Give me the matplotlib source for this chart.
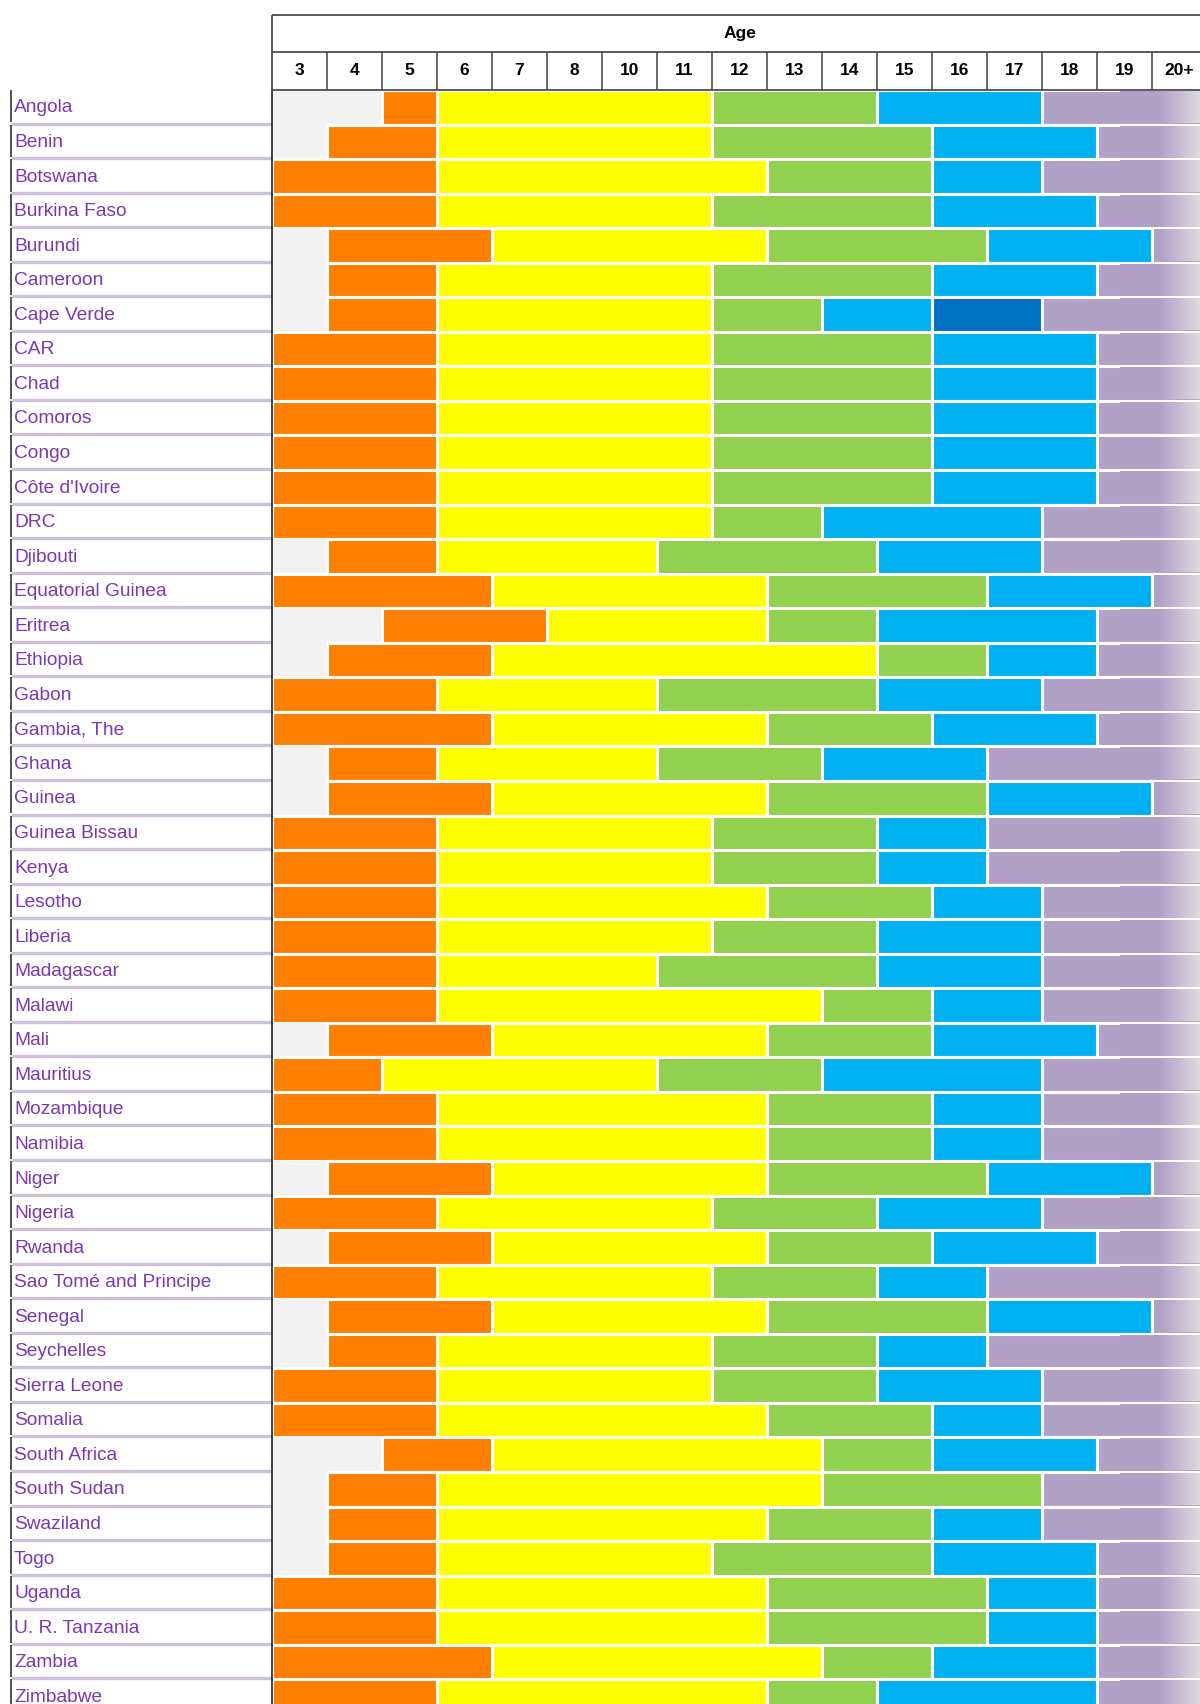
import numpy as np
import matplotlib.pyplot as plt
from matplotlib.colors import LinearSegmentedColormap

plt.rcParams['font.family'] = ['Liberation Sans', 'DejaVu Sans']

age_labels = ['3', '4', '5', '6', '7', '8', '10', '11', '12', '13', '14',
              '15', '16', '17', '18', '19', '20+']

countries = ['Angola', 'Benin', 'Botswana', 'Burkina Faso', 'Burundi', 'Cameroon',
             'Cape Verde', 'CAR', 'Chad', 'Comoros', 'Congo', "Côte d'Ivoire", 'DRC',
             'Djibouti', 'Equatorial Guinea', 'Eritrea', 'Ethiopia', 'Gabon',
             'Gambia, The', 'Ghana', 'Guinea', 'Guinea Bissau', 'Kenya', 'Lesotho',
             'Liberia', 'Madagascar', 'Malawi', 'Mali', 'Mauritius', 'Mozambique',
             'Namibia', 'Niger', 'Nigeria', 'Rwanda', 'Sao Tomé and Principe',
             'Senegal', 'Seychelles', 'Sierra Leone', 'Somalia', 'South Africa',
             'South Sudan', 'Swaziland', 'Togo', 'Uganda', 'U. R. Tanzania',
             'Zambia', 'Zimbabwe']

# column (index into age_labels) where each level starts
pre_primary = [2, 1, 0, 0, 1, 1, 1, 0, 0, 0, 0, 0, 0, 1, 0, 2, 1, 0, 0, 1, 1, 0, 0, 0,
               0, 0, 0, 1, 0, 0, 0, 1, 0, 1, 0, 1, 1, 0, 0, 2, 1, 1, 1, 0, 0, 0, 0]
primary = [3, 3, 3, 3, 4, 3, 3, 3, 3, 3, 3, 3, 3, 3, 4, 5, 4, 3, 4, 3, 4, 3, 3, 3,
           3, 3, 3, 4, 2, 3, 3, 4, 3, 4, 3, 4, 3, 3, 3, 4, 3, 3, 3, 3, 3, 4, 3]
lower_sec = [8, 8, 9, 8, 9, 8, 8, 8, 8, 8, 8, 8, 8, 7, 9, 9, 11, 7, 9, 7, 9, 8, 8, 9,
             8, 7, 10, 9, 7, 9, 9, 9, 8, 9, 8, 9, 8, 8, 9, 10, 10, 9, 8, 9, 9, 10, 9]
upper_sec = [11, 12, 12, 12, 13, 12, 10, 12, 12, 12, 12, 12, 10, 11, 13, 11, 13, 11,
             12, 10, 13, 11, 11, 12, 11, 11, 12, 12, 10, 12, 12, 13, 11, 12, 11, 13,
             11, 11, 12, 12, 14, 12, 12, 13, 13, 12, 11]
upper_sec2 = {'Cape Verde': 12}
tertiary = [14, 15, 14, 15, 16, 15, 14, 15, 15, 15, 15, 15, 14, 14, 16, 15, 15, 14,
            15, 13, 16, 13, 13, 14, 14, 14, 14, 15, 14, 14, 14, 16, 14, 15, 13, 16,
            13, 14, 14, 15, 14, 14, 15, 15, 15, 15, 15]

c_none = '#f2f2f2'
c_pre = '#ff8000'
c_pri = '#ffff00'
c_low = '#92d050'
c_up = '#00b0f0'
c_up2 = '#0070c0'
c_ter = '#b2a1c7'
c_text = '#7a38b3'

# pixel layout
W, H = 1200, 1704
X0, Y0 = 272, 90
COLW, ROWH = 55.0, 34.55

fig = plt.figure(figsize=(W / 100, H / 100), dpi=100)
ax = fig.add_axes([0, 0, 1, 1])
ax.axis('off')

xmin, xmax = -X0 / COLW, (W - X0) / COLW
ymax, ymin = (H - Y0) / ROWH, -Y0 / ROWH

def px_x(p):
    return (p - X0) / COLW

def px_y(p):
    return (p - Y0) / ROWH

ncol = len(age_labels)
fade = LinearSegmentedColormap.from_list('fade', [c_ter, c_ter, '#dfdadf'])
fade_x0 = px_x(1120)
inset_x = 1.5 / COLW
inset_y = 1.5 / ROWH

for i, name in enumerate(countries):
    y = i + 0.5
    if pre_primary[i] > 0:
        ax.barh(y, pre_primary[i], left=0, height=1.0, color=c_none, linewidth=0)
    segs = [(pre_primary[i], primary[i], c_pre),
            (primary[i], lower_sec[i], c_pri),
            (lower_sec[i], upper_sec[i], c_low)]
    if name in upper_sec2:
        segs.append((upper_sec[i], upper_sec2[name], c_up))
        segs.append((upper_sec2[name], tertiary[i], c_up2))
    else:
        segs.append((upper_sec[i], tertiary[i], c_up))
    segs.append((tertiary[i], ncol, c_ter))
    for a, b, col in segs:
        if b > a:
            ax.barh(y, b - a, left=a, height=1.0, color=col,
                    edgecolor='white', linewidth=2.2)
    # fade at the right end of the tertiary bar
    g0 = max(fade_x0, tertiary[i] + inset_x)
    grad = np.linspace((g0 - fade_x0) / (xmax - fade_x0), 1, 200).reshape(1, -1)
    ax.imshow(grad, cmap=fade, vmin=0, vmax=1, aspect='auto',
              extent=[g0, xmax, i + 1 - inset_y, i + inset_y], zorder=3)

    # country label cell
    ax.text(px_x(14), y + 0.02, name, color=c_text, fontsize=13.8,
            ha='left', va='center')
    ax.hlines(i + 1 - 0.03, px_x(11), 0, color='#ccc0da', linewidth=2.4)
    ax.vlines(px_x(11.5), i, i + 0.94, color='#222222', linewidth=1.1)

n = len(countries)
ax.vlines(0, 0, n, color='#111111', linewidth=1.1, zorder=4)

# header
hc = '#404040'
top, mid = px_y(15), px_y(52)
ax.hlines([top, mid, 0], 0, xmax, color=hc, linewidth=1.2, zorder=4)
ax.vlines(0, top, 0, color=hc, linewidth=1.2, zorder=4)
ax.vlines(np.arange(1, ncol + 1), mid, 0, color=hc, linewidth=1.1, zorder=4)
ax.text(ncol / 2, (top + mid) / 2, 'Age', fontsize=12.5, fontweight='bold',
        ha='center', va='center')
for k, lab in enumerate(age_labels):
    ax.text(k + 0.5, (mid + 0) / 2, lab, fontsize=12.5, fontweight='bold',
            ha='center', va='center')

ax.set_xlim(xmin, xmax)
ax.set_ylim(ymax, ymin)
fig.savefig('out.png', dpi=100)
